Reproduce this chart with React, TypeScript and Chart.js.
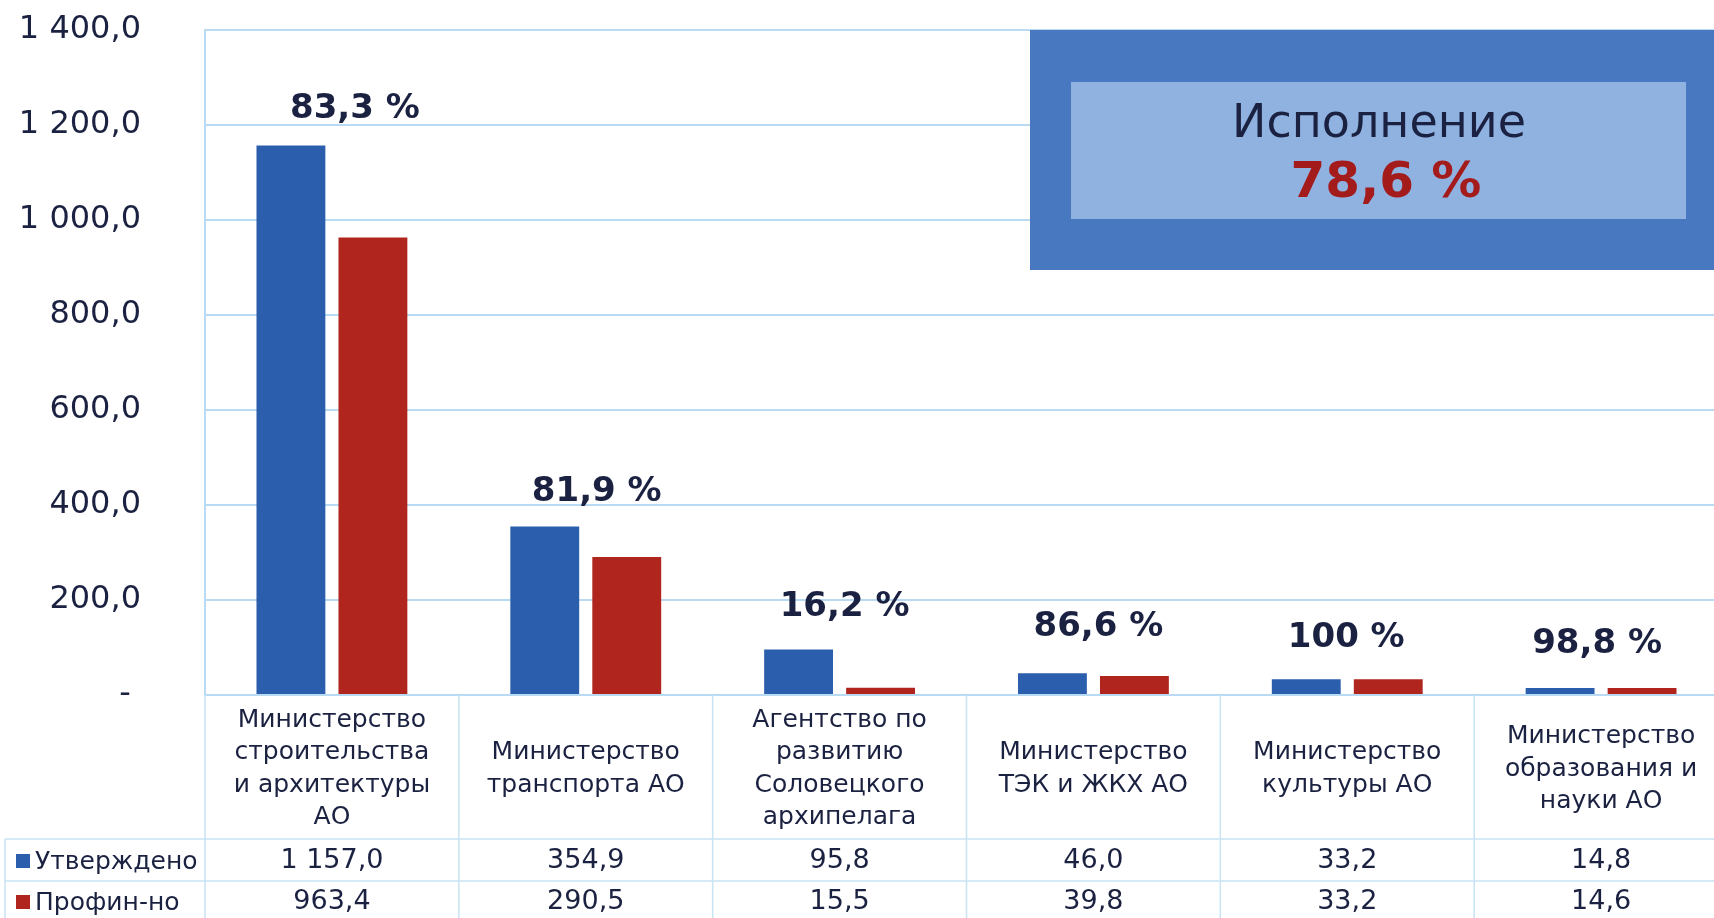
import React, { useEffect, useRef } from 'react';
import { Chart, registerables } from 'chart.js';

Chart.register(...registerables);

// ---------- data ----------
const categories: string[][] = [
  ['Министерство', 'строительства', 'и архитектуры', 'АО'],
  ['Министерство', 'транспорта АО'],
  ['Агентство по', 'развитию', 'Соловецкого', 'архипелага'],
  ['Министерство', 'ТЭК и ЖКХ АО'],
  ['Министерство', 'культуры АО'],
  ['Министерство', 'образования и', 'науки АО'],
];
const seriesNames = ['Утверждено', 'Профин-но'];
const approved = [1157.0, 354.9, 95.8, 46.0, 33.2, 14.8];
const funded = [963.4, 290.5, 15.5, 39.8, 33.2, 14.6];
const execPercentLabels = ['83,3 %', '81,9 %', '16,2 %', '86,6 %', '100 %', '98,8 %'];
const yMin = 0;
const yMax = 1400;
const yStep = 200;
const summaryTitle = 'Исполнение';
const summaryValue = '78,6 %';

// ---------- styles ----------
const FONT = "'DejaVu Sans', 'Verdana', sans-serif";
const BLUE = '#2b5fad';
const RED = '#b0261f';
const TEXT = '#1b2140';
const GRID = '#b8daf2';
const SEP = '#c8e3f4';
// label nudges (style only), in px: [dx, dy]
const LABEL_NUDGE: [number, number][] = [
  [23, -36],
  [11, -34],
  [5, -42],
  [5, -46],
  [-1, -41],
  [-4, -44],
];

function fmt(v: number): string {
  const [i, d] = v.toFixed(1).split('.');
  return i.replace(/\B(?=(\d{3})+(?!\d))/g, ' ') + ',' + d;
}

const tablePlugin = {
  id: 'tablePlugin',
  beforeDatasetsDraw(chart: any) {
    const ctx = chart.ctx as CanvasRenderingContext2D;
    const W = chart.width;
    ctx.save();
    ctx.fillStyle = '#4878c0';
    ctx.fillRect(1030, 30, W - 1030, 240);
    ctx.fillStyle = '#90b2e1';
    ctx.fillRect(1071, 82, 615, 137);
    ctx.textAlign = 'center';
    ctx.textBaseline = 'middle';
    ctx.fillStyle = TEXT;
    ctx.font = `46px ${FONT}`;
    ctx.fillText(summaryTitle, 1379, 125);
    ctx.fillStyle = '#a41b1b';
    ctx.font = `bold 50px ${FONT}`;
    ctx.fillText(summaryValue, 1386, 184);
    ctx.restore();
  },
  afterDraw(chart: any) {
    const ctx = chart.ctx as CanvasRenderingContext2D;
    const xs = chart.scales.x;
    const area = chart.chartArea;
    const W = chart.width;
    const H = chart.height;
    const n = categories.length;
    const catW = (area.right - area.left) / n;

    ctx.save();
    ctx.strokeStyle = SEP;
    ctx.lineWidth = 1.5;
    ctx.beginPath();
    for (let i = 0; i <= n; i++) {
      const x = area.left + i * catW;
      ctx.moveTo(x, area.bottom);
      ctx.lineTo(x, H);
    }
    const rowLines = [839, 881];
    rowLines.forEach((y) => {
      ctx.moveTo(5, y);
      ctx.lineTo(W, y);
    });
    ctx.moveTo(5, 839);
    ctx.lineTo(5, H);
    ctx.stroke();

    // percent labels above bars
    const meta0 = chart.getDatasetMeta(0);
    ctx.fillStyle = TEXT;
    ctx.textAlign = 'center';
    ctx.textBaseline = 'middle';
    ctx.font = `bold 34px ${FONT}`;
    execPercentLabels.forEach((lbl, i) => {
      const bar = meta0.data[i];
      const cx = xs.getPixelForValue(i);
      const [dx, dy] = LABEL_NUDGE[i];
      ctx.fillText(lbl, cx + dx, bar.y + dy);
    });

    // category labels
    ctx.font = `25px ${FONT}`;
    const lh = 32.5;
    const cy = area.bottom + 74;
    categories.forEach((lines, i) => {
      const cx = xs.getPixelForValue(i);
      lines.forEach((t, j) => {
        ctx.fillText(t, cx, cy + (j - (lines.length - 1) / 2) * lh);
      });
    });

    // data rows
    const rows = [approved, funded];
    const rowY = [861, 902];
    const colors = [BLUE, RED];
    rows.forEach((vals, r) => {
      ctx.font = `27px ${FONT}`;
      ctx.textAlign = 'center';
      ctx.fillStyle = TEXT;
      vals.forEach((v, i) => {
        ctx.fillText(fmt(v), xs.getPixelForValue(i), rowY[r]);
      });
      ctx.fillStyle = colors[r];
      ctx.fillRect(16, rowY[r] - 7, 14, 14);
      ctx.fillStyle = TEXT;
      ctx.textAlign = 'left';
      ctx.font = `25px ${FONT}`;
      ctx.fillText(seriesNames[r], 35, rowY[r] + 1);
    });
    ctx.restore();
  },
};

export default function App() {
  const ref = useRef<HTMLCanvasElement>(null);

  useEffect(() => {
    if (!ref.current) return;
    const chart = new Chart(ref.current, {
      type: 'bar',
      data: {
        labels: categories.map((c) => c.join(' ')),
        datasets: [
          {
            label: seriesNames[0],
            data: approved,
            backgroundColor: BLUE,
            barPercentage: 0.84,
            categoryPercentage: 0.646,
          },
          {
            label: seriesNames[1],
            data: funded,
            backgroundColor: RED,
            barPercentage: 0.84,
            categoryPercentage: 0.646,
          },
        ],
      },
      options: {
        responsive: false,
        animation: false,
        layout: { padding: { top: 30, left: 0, right: 0, bottom: 0 } },
        plugins: {
          legend: { display: false },
          tooltip: { enabled: false },
        },
        scales: {
          x: {
            grid: { display: false },
            border: { display: true, color: GRID, width: 2 },
            ticks: { display: false },
            afterFit: (s: any) => {
              s.height = 223;
              s.paddingLeft = 0;
              s.paddingRight = 0;
            },
          },
          y: {
            min: yMin,
            max: yMax,
            ticks: {
              stepSize: yStep,
              padding: 64,
              color: TEXT,
              font: { family: FONT, size: 32 },
              callback: (v: any) => (Number(v) === 0 ? '- ' : fmt(Number(v))),
            },
            grid: { color: GRID, lineWidth: 2, drawTicks: false },
            border: { display: true, color: GRID, width: 2 },
            afterFit: (s: any) => {
              s.width = 205;
              s.paddingTop = 0;
              s.paddingBottom = 0;
            },
          },
        },
      },
      plugins: [tablePlugin],
    });
    return () => chart.destroy();
  }, []);

  return (
    <div
      style={{
        position: 'fixed',
        left: 0,
        top: 0,
        width: 1714,
        height: 918,
        overflow: 'hidden',
        background: '#ffffff',
      }}
    >
      <canvas ref={ref} width={1728} height={918} style={{ display: 'block' }} />
    </div>
  );
}
